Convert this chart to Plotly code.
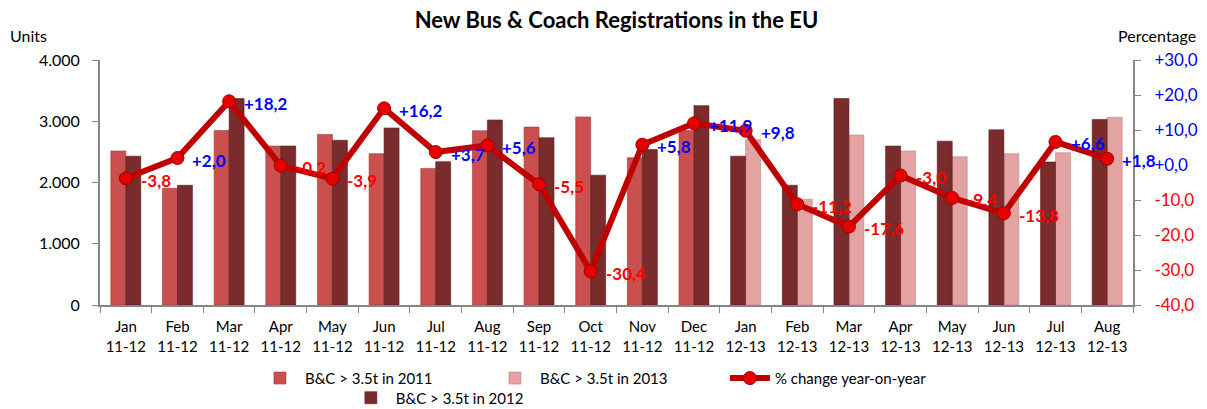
import plotly.graph_objects as go

months = ["Jan", "Feb", "Mar", "Apr", "May", "Jun", "Jul", "Aug", "Sep", "Oct",
          "Nov", "Dec", "Jan", "Feb", "Mar", "Apr", "May", "Jun", "Jul", "Aug"]
periods = ["11-12"] * 12 + ["12-13"] * 8
categories = [f"{m}<br>{p}" for m, p in zip(months, periods)]

reg_2011 = [2515, 1905, 2850, 2595, 2785, 2470, 2230, 2845, 2905, 3070, 2405, 2850,
            None, None, None, None, None, None, None, None]
reg_2012 = [2430, 1955, 3370, 2595, 2690, 2890, 2340, 3020, 2730, 2120, 2540, 3255,
            2430, 1955, 3370, 2595, 2675, 2860, 2335, 3030]
reg_2013 = [None] * 12 + [2700, 1725, 2775, 2515, 2420, 2470, 2485, 3065]
pct_change = [-3.8, 2.0, 18.2, -0.2, -3.9, 16.2, 3.7, 5.6, -5.5, -30.4,
              5.8, 11.9, 9.8, -11.2, -17.6, -3.0, -9.4, -13.8, 6.6, 1.8]

left_ticks = [0, 1000, 2000, 3000, 4000]
right_ticks = [30, 20, 10, 0, -10, -20, -30, -40]

FONT = "Lato"
BW = 0.29
n = len(categories)

fig = go.Figure()
fig.add_trace(go.Bar(
    x=categories, y=reg_2011, name="B&C > 3.5t in 2011",
    width=[BW] * n, offset=[-BW] * n,
    marker=dict(color="#c9504e", line=dict(color="#9e3a38", width=0.6)),
    legend="legend",
))
fig.add_trace(go.Bar(
    x=categories, y=reg_2013, name="B&C > 3.5t in 2013",
    width=[BW] * n, offset=[0] * n,
    marker=dict(color="#e3a3a2", line=dict(color="#c08584", width=0.6)),
    legend="legend",
))
fig.add_trace(go.Bar(
    x=categories, y=reg_2012, name="B&C > 3.5t in 2012",
    width=[BW] * n,
    offset=[0 if p == "11-12" else -BW for p in periods],
    marker=dict(color="#7a2b2c", line=dict(color="#5a1c1d", width=0.6)),
    legend="legend2",
))
fig.add_trace(go.Scatter(
    x=categories, y=pct_change, name="% change year-on-year", yaxis="y2",
    mode="lines+markers",
    line=dict(color="#c00000", width=6),
    marker=dict(size=13, color="#e60000", line=dict(color="#a00000", width=1)),
    legend="legend",
))

for c, v in zip(categories, pct_change):
    txt = f"{v:+.1f}".replace(".", ",")
    fig.add_annotation(
        x=c, y=v, xref="x", yref="y2", text=txt, showarrow=False,
        xanchor="left", yanchor="middle", xshift=13, yshift=-2,
        font=dict(family=FONT, size=17, color="#0000ff" if v >= 0 else "#ff0000", weight="bold"),
    )

fig.add_annotation(text="Units", xref="paper", yref="paper", x=-0.089, y=1.0, yshift=13,
                   xanchor="left", yanchor="bottom", showarrow=False,
                   font=dict(family=FONT, size=16, color="#000000"))
fig.add_annotation(text="Percentage", xref="paper", yref="paper", x=1.063, y=1.0, yshift=13,
                   xanchor="right", yanchor="bottom", showarrow=False,
                   font=dict(family=FONT, size=16, color="#000000"))

right_text = []
for t in right_ticks:
    s = f"{t:+.1f}".replace(".", ",")
    if t == 0:
        s = "+0,0"
    col = "#0000ff" if t >= 0 else "#ff0000"
    right_text.append(f'<span style="color:{col}">{s}</span>')

fig.update_layout(
    width=1207, height=409,
    margin=dict(l=100, r=74, t=60, b=104, autoexpand=False),
    paper_bgcolor="white", plot_bgcolor="white",
    separators=",.",
    barmode="overlay",
    title=dict(text="<b>New Bus & Coach Registrations in the EU</b>",
               xref="paper", x=0.5, xanchor="center",
               yref="container", y=0.95, yanchor="middle",
               font=dict(family=FONT, size=22, color="#000000")),
    font=dict(family=FONT, size=14, color="#000000"),
    xaxis=dict(
        type="category", tickson="boundaries", ticks="outside", ticklen=6,
        tickcolor="#868686", showline=True, linecolor="#868686", linewidth=2,
        showgrid=False, tickfont=dict(family=FONT, size=15, color="#000000"),
        range=[-0.5, n - 0.5], ticklabelstandoff=7, automargin=False,
    ),
    yaxis=dict(
        range=[0, 4000], tickvals=left_ticks, tickformat=",.0f",
        ticks="outside", ticklen=6, tickcolor="#868686",
        showline=True, linecolor="#868686", linewidth=2, showgrid=False, zeroline=False,
        tickfont=dict(family=FONT, size=16, color="#000000"), ticklabelstandoff=9,
        automargin=False,
    ),
    yaxis2=dict(
        overlaying="y", side="right", range=[-40, 30],
        tickvals=right_ticks, ticktext=right_text,
        ticks="outside", ticklen=6, tickcolor="#868686",
        showline=True, linecolor="#868686", linewidth=2, showgrid=False, zeroline=False,
        tickfont=dict(family=FONT, size=17), ticklabelstandoff=10, automargin=False,
    ),
    legend=dict(
        orientation="h", x=0.15, xanchor="left",
        yref="container", y=0.075, yanchor="middle",
        font=dict(family=FONT, size=15, color="#000000"),
        entrywidth=180, entrywidthmode="pixels", traceorder="normal",
        itemwidth=40, bgcolor="rgba(0,0,0,0)",
    ),
    legend2=dict(
        orientation="h", x=0.238, xanchor="left",
        yref="container", y=0.027, yanchor="middle",
        font=dict(family=FONT, size=15, color="#000000"),
        itemwidth=40, bgcolor="rgba(0,0,0,0)",
    ),
)

fig.write_html("out.html", config={"displayModeBar": False},
               post_script="document.body.style.margin='0';")
